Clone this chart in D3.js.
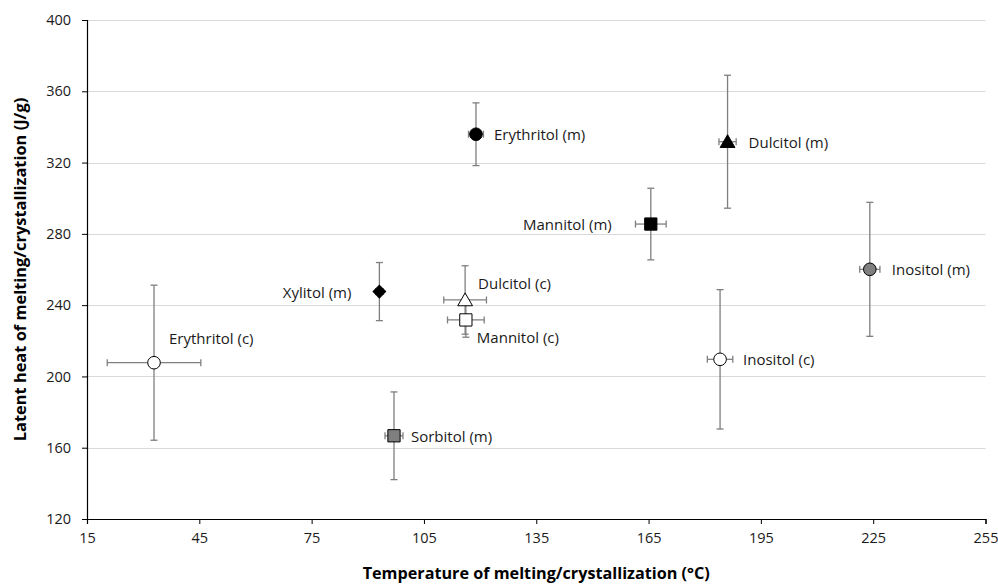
<!DOCTYPE html>
<html>
<head>
<meta charset="utf-8">
<script src="https://cdn.jsdelivr.net/npm/d3@7"></script>
<style>
  html, body { margin: 0; padding: 0; background: #fff; }
  svg { display: block; }
  text { font-family: "Open Sans", "Noto Sans", sans-serif; }
</style>
</head>
<body>
<svg id="chart" width="998" height="585"></svg>
<script>
// ---- data ----
const names   = ["Erythritol (c)", "Erythritol (m)", "Xylitol (m)", "Dulcitol (c)", "Mannitol (c)",
                 "Sorbitol (m)", "Mannitol (m)", "Dulcitol (m)", "Inositol (m)", "Inositol (c)"];
const temps   = [32.9, 118.9, 93.1, 116.0, 116.2, 97.0, 165.6, 186.1, 224.1, 184.1];
const heats   = [207.7, 335.9, 247.6, 242.9, 231.7, 166.7, 285.5, 331.7, 260.1, 209.6];
const tempErr = [12.5, 2.0, 1.0, 5.7, 4.9, 2.4, 4.1, 2.3, 2.7, 3.4];
const heatErr = [43.5, 17.6, 16.3, 19.2, 9.7, 24.6, 20.1, 37.3, 37.6, 39.1];
const shapes  = ["circle", "circle", "diamond", "triangle", "square", "square", "square", "triangle", "circle", "circle"];
const fills   = ["white", "black", "black", "white", "white", "gray", "black", "black", "gray", "white"];
const xTicks  = [15, 45, 75, 105, 135, 165, 195, 225, 255];
const yTicks  = [120, 160, 200, 240, 280, 320, 360, 400];
const xTitle  = "Temperature of melting/crystallization (°C)";
const yTitle  = "Latent heat of melting/crystallization (J/g)";

// label placement (pixel offsets from marker)
const labelDx     = [15, 18, -28, 13, 11, 17, -39, 21, 22, 23];
const labelDy     = [-25, 0, 0, -17, 17, 0, 0, 0, 0, 0];
const labelAnchor = ["start", "start", "end", "start", "start", "start", "end", "start", "start", "start"];

const fillColor = {white: "#ffffff", black: "#000000", gray: "#7f7f7f"};

// ---- layout ----
const svg = d3.select("#chart");
const x = d3.scaleLinear().domain([15, 255]).range([87, 985.5]);
const y = d3.scaleLinear().domain([120, 400]).range([519, 20]);

// gridlines
svg.append("g").selectAll("line").data(yTicks.slice(1)).join("line")
  .attr("x1", x(15)).attr("x2", x(255))
  .attr("y1", d => Math.round(y(d)) + 0.5).attr("y2", d => Math.round(y(d)) + 0.5)
  .attr("stroke", "#d9d9d9").attr("stroke-width", 1);

// axes
const xAxis = svg.append("g").attr("transform", `translate(0,${y(120)})`)
  .call(d3.axisBottom(x).tickValues(xTicks).tickSize(5).tickPadding(9).tickFormat(d3.format("d")));
const yAxis = svg.append("g").attr("transform", `translate(${x(15)},0)`)
  .call(d3.axisLeft(y).tickValues(yTicks).tickSize(5).tickPadding(11).tickFormat(d3.format("d")));
[xAxis, yAxis].forEach(a => {
  a.select(".domain").attr("stroke", "#000").attr("stroke-width", 1.2);
  a.selectAll(".tick line").attr("stroke", "#000");
  a.selectAll(".tick text").attr("font-size", 14.5).attr("fill", "#1a1a1a")
    .style("font-family", "'Open Sans', sans-serif");
});

// axis titles
svg.append("text").attr("x", (x(15) + x(255)) / 2).attr("y", 579)
  .attr("text-anchor", "middle").attr("font-size", 16.2).attr("font-weight", "bold")
  .attr("fill", "#000").text(xTitle);
svg.append("text")
  .attr("transform", `translate(26,${(y(120) + y(400)) / 2}) rotate(-90)`)
  .attr("text-anchor", "middle").attr("font-size", 16.4).attr("font-weight", "bold")
  .attr("fill", "#000").text(yTitle);

const data = names.map((n, i) => ({
  name: n, t: temps[i], h: heats[i], te: tempErr[i], he: heatErr[i],
  shape: shapes[i], fill: fillColor[fills[i]],
  dx: labelDx[i], dy: labelDy[i], anchor: labelAnchor[i]
}));

// error bars
const eb = svg.append("g").attr("stroke", "#7f7f7f").attr("stroke-width", 1.3).attr("fill", "none");
const cap = 3.5;
data.forEach(d => {
  const cx = x(d.t), cy = y(d.h);
  const x0 = x(d.t - d.te), x1 = x(d.t + d.te);
  const y0 = y(d.h - d.he), y1 = y(d.h + d.he);
  eb.append("line").attr("x1", cx).attr("x2", cx).attr("y1", y0).attr("y2", y1);
  eb.append("line").attr("x1", cx - cap).attr("x2", cx + cap).attr("y1", y0).attr("y2", y0);
  eb.append("line").attr("x1", cx - cap).attr("x2", cx + cap).attr("y1", y1).attr("y2", y1);
  eb.append("line").attr("x1", x0).attr("x2", x1).attr("y1", cy).attr("y2", cy);
  eb.append("line").attr("x1", x0).attr("x2", x0).attr("y1", cy - cap).attr("y2", cy + cap);
  eb.append("line").attr("x1", x1).attr("x2", x1).attr("y1", cy - cap).attr("y2", cy + cap);
});

// markers
const symType = {circle: d3.symbolCircle, square: d3.symbolSquare, triangle: d3.symbolTriangle, diamond: d3.symbolSquare};
const symSize = {circle: 125, square: 150, triangle: 95, diamond: 80};
svg.append("g").selectAll("path").data(data).join("path")
  .attr("transform", d => `translate(${x(d.t)},${y(d.h) + (d.shape === "triangle" ? 1.5 : 0)})` +
                          (d.shape === "diamond" ? " rotate(45)" : ""))
  .attr("d", d => d3.symbol().type(symType[d.shape]).size(symSize[d.shape])())
  .attr("fill", d => d.fill).attr("stroke", "#000").attr("stroke-width", 1);

// labels
svg.append("g").selectAll("text").data(data).join("text")
  .attr("x", d => x(d.t) + d.dx).attr("y", d => y(d.h) + d.dy)
  .attr("text-anchor", d => d.anchor).attr("dominant-baseline", "central")
  .attr("font-size", 15).attr("fill", "#1a1a1a").text(d => d.name);
</script>
</body>
</html>
